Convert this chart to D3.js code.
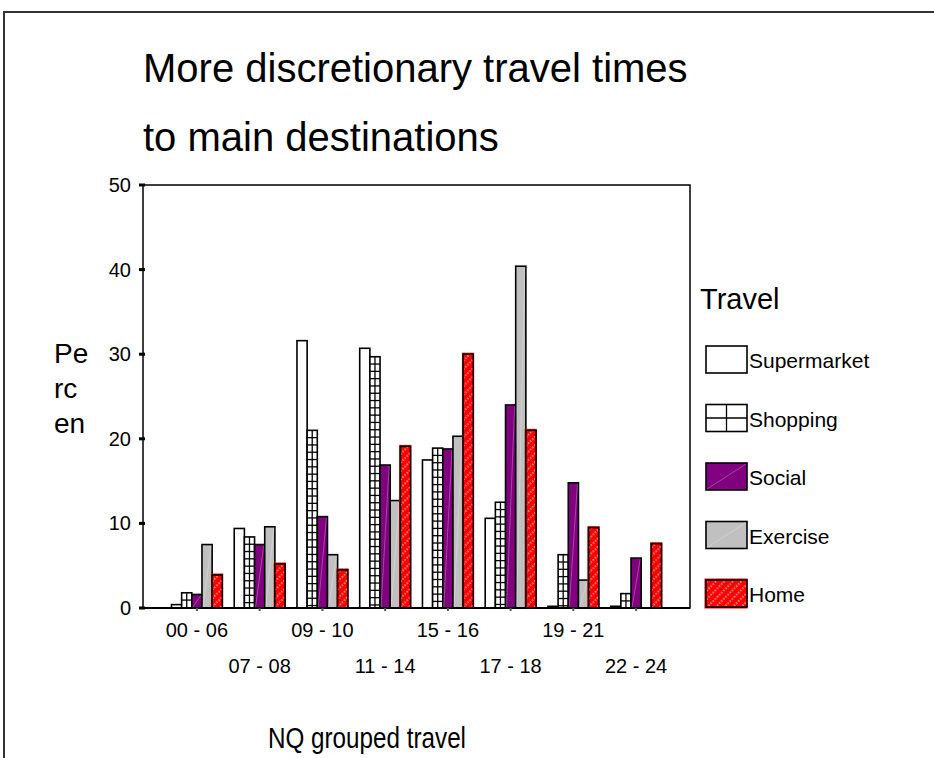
<!DOCTYPE html>
<html>
<head>
<meta charset="utf-8">
<script src="https://cdn.jsdelivr.net/npm/d3@7"></script>
<style>
  body { margin: 0; background: #fff; }
  svg { display: block; }
  text { font-family: "Liberation Sans", Arial, sans-serif; fill: #000; }
</style>
</head>
<body>
<svg id="chart" width="934" height="758"></svg>
<script>
// Percent of trips per time band, by destination
const categories = ["00 - 06", "07 - 08", "09 - 10", "11 - 14", "15 - 16", "17 - 18", "19 - 21", "22 - 24"];
const seriesNames = ["Supermarket", "Shopping", "Social", "Exercise", "Home"];
const supermarket = [0.4, 9.4, 31.6, 30.7, 17.5, 10.6, 0.2, 0.2];
const shopping    = [1.8, 8.4, 21.0, 29.7, 18.9, 12.5, 6.3, 1.7];
const social      = [1.6, 7.5, 10.8, 16.9, 18.8, 24.0, 14.8, 5.9];
const exercise    = [7.5, 9.6, 6.3, 12.7, 20.3, 40.4, 3.3, 0.0];
const home        = [3.9, 5.2, 4.5, 19.1, 30.0, 21.0, 9.5, 7.6];
const yTicks = [0, 10, 20, 30, 40, 50];

const seriesValues = [supermarket, shopping, social, exercise, home];
const rows = categories.map((cat, i) => ({
  cat,
  bars: seriesNames.map((name, j) => ({ name, value: seriesValues[j][i] }))
}));

const svg = d3.select("#chart");
const W = 934, H = 758;
const plot = { left: 143, right: 690, top: 185, bottom: 608 };

// Outer frame (top and left edges)
svg.append("path")
  .attr("d", `M4,${H} V12 H${W}`)
  .attr("fill", "none").attr("stroke", "#333").attr("stroke-width", 2);

// Patterns
const defs = svg.append("defs");
const homePat = defs.append("pattern")
  .attr("id", "homeFill").attr("patternUnits", "userSpaceOnUse")
  .attr("width", 6).attr("height", 6)
  .attr("patternTransform", "rotate(45)");
homePat.append("rect").attr("width", 6).attr("height", 6).attr("fill", "#ff0000");
[0.8, 3.8].forEach(yy => homePat.append("circle")
  .attr("cx", 2).attr("cy", yy).attr("r", 0.8).attr("fill", "#fff").attr("opacity", 0.9));

const fills = {
  Supermarket: "#ffffff",
  Shopping: "#ffffff",
  Social: "#800080",
  Exercise: "#c0c0c0",
  Home: "url(#homeFill)"
};

// Scales
const x0 = d3.scaleBand().domain(categories)
  .range([plot.left, plot.right]).paddingInner(0.19).paddingOuter(0.454);
const x1 = d3.scaleBand().domain(seriesNames).range([0, x0.bandwidth()]).padding(0);
const y = d3.scaleLinear().domain([0, 50]).range([plot.bottom, plot.top]);

// Title
const title = svg.append("text").attr("x", 143).attr("font-size", 40);
title.append("tspan").attr("x", 143).attr("y", 82).text("More discretionary travel times");
title.append("tspan").attr("x", 143).attr("y", 151).text("to main destinations");

// Plot frame
svg.append("rect")
  .attr("x", plot.left).attr("y", plot.top)
  .attr("width", plot.right - plot.left).attr("height", plot.bottom - plot.top)
  .attr("fill", "none").attr("stroke", "#000").attr("stroke-width", 1.5);

// Y axis
const yAxis = svg.append("g").attr("transform", `translate(${plot.left},0)`)
  .call(d3.axisLeft(y).tickValues(yTicks).tickSize(0).tickPadding(12).tickFormat(d3.format("d")));
yAxis.select(".domain").remove();
yAxis.selectAll("text").attr("font-size", 20).attr("font-family", "Liberation Sans, Arial, sans-serif").attr("fill", "#000");
svg.append("g").selectAll("rect").data(yTicks).join("rect")
  .attr("x", plot.left - 4).attr("y", d => y(d) - 1.5)
  .attr("width", 6).attr("height", 3).attr("fill", "#000");

// Bars
const groups = svg.append("g").selectAll("g").data(rows).join("g")
  .attr("transform", d => `translate(${x0(d.cat)},0)`);

groups.each(function (row) {
  const g = d3.select(this);
  row.bars.forEach(b => {
    if (b.value <= 0) return;
    const bx = x1(b.name), bw = x1.bandwidth();
    const by = y(b.value), bh = y(0) - y(b.value);
    if (b.name === "Home") {
      g.append("rect").attr("x", bx - 1.2).attr("y", by - 1.5)
        .attr("width", bw + 2).attr("height", bh + 1.5).attr("fill", "#ff0000");
    }
    g.append("rect").attr("x", bx).attr("y", by).attr("width", bw).attr("height", bh)
      .attr("fill", fills[b.name]).attr("stroke", "#000").attr("stroke-width", 1.6);
    if (b.name === "Shopping") {
      // grid hatching
      g.append("line").attr("x1", bx + bw / 2).attr("x2", bx + bw / 2)
        .attr("y1", by).attr("y2", y(0)).attr("stroke", "#000").attr("stroke-width", 1.3);
      for (let yy = by + 7.3; yy < y(0) - 1; yy += 7.3) {
        g.append("line").attr("x1", bx).attr("x2", bx + bw)
          .attr("y1", yy).attr("y2", yy).attr("stroke", "#000").attr("stroke-width", 1.3);
      }
    }
    if (b.name === "Social" || b.name === "Exercise") {
      g.append("line").attr("x1", bx + 1).attr("y1", y(0) - 1)
        .attr("x2", bx + bw - 1).attr("y2", by + 1)
        .attr("stroke", "#fff").attr("stroke-opacity", 0.35).attr("stroke-width", 0.8);
    }
  });
});

// Baseline redrawn over the bars
svg.append("line").attr("x1", plot.left).attr("x2", plot.right)
  .attr("y1", plot.bottom).attr("y2", plot.bottom).attr("stroke", "#000").attr("stroke-width", 2);

// X axis ticks and staggered labels
svg.append("g").selectAll("line").data(categories).join("line")
  .attr("x1", d => x0(d) + x0.bandwidth() / 2).attr("x2", d => x0(d) + x0.bandwidth() / 2)
  .attr("y1", plot.bottom).attr("y2", plot.bottom + 3)
  .attr("stroke", "#555").attr("stroke-width", 2);
svg.append("g").selectAll("text").data(categories).join("text")
  .attr("x", d => x0(d) + x0.bandwidth() / 2)
  .attr("y", (d, i) => i % 2 === 0 ? 637 : 673)
  .attr("text-anchor", "middle").attr("font-size", 20)
  .text(d => d);

// Axis titles
svg.append("text").attr("x", 268).attr("y", 748).attr("font-size", 30)
  .attr("textLength", 198).attr("lengthAdjust", "spacingAndGlyphs")
  .text("NQ grouped travel");
const yt = svg.append("text").attr("font-size", 28);
[["Pe", 363], ["rc", 398], ["en", 433]].forEach(([t, yy]) =>
  yt.append("tspan").attr("x", 54).attr("y", yy).text(t));

// Legend
svg.append("text").attr("x", 700).attr("y", 309).attr("font-size", 29).text("Travel");
const legend = svg.append("g").selectAll("g").data(seriesNames).join("g")
  .attr("transform", (d, i) => `translate(706,${346 + i * 58.5})`);
legend.each(function (name) {
  const g = d3.select(this);
  const w = 41, h = 27;
  if (name === "Home") {
    g.append("rect").attr("x", -1.5).attr("y", -1.5).attr("width", w + 2).attr("height", h + 3).attr("fill", "#ff0000");
  }
  g.append("rect").attr("width", w).attr("height", h)
    .attr("fill", fills[name]).attr("stroke", "#000").attr("stroke-width", 1.6);
  if (name === "Shopping") {
    g.append("line").attr("x1", w / 2).attr("x2", w / 2).attr("y1", 0).attr("y2", h)
      .attr("stroke", "#000").attr("stroke-width", 1.3);
    g.append("line").attr("x1", 0).attr("x2", w).attr("y1", h / 2).attr("y2", h / 2)
      .attr("stroke", "#000").attr("stroke-width", 1.3);
  }
  if (name === "Social" || name === "Exercise") {
    g.append("line").attr("x1", 1).attr("y1", h - 1).attr("x2", w - 1).attr("y2", 1)
      .attr("stroke", "#fff").attr("stroke-opacity", 0.35).attr("stroke-width", 0.8);
  }
  g.append("text").attr("x", 43).attr("y", 22).attr("font-size", 21).text(name);
});
</script>
</body>
</html>
